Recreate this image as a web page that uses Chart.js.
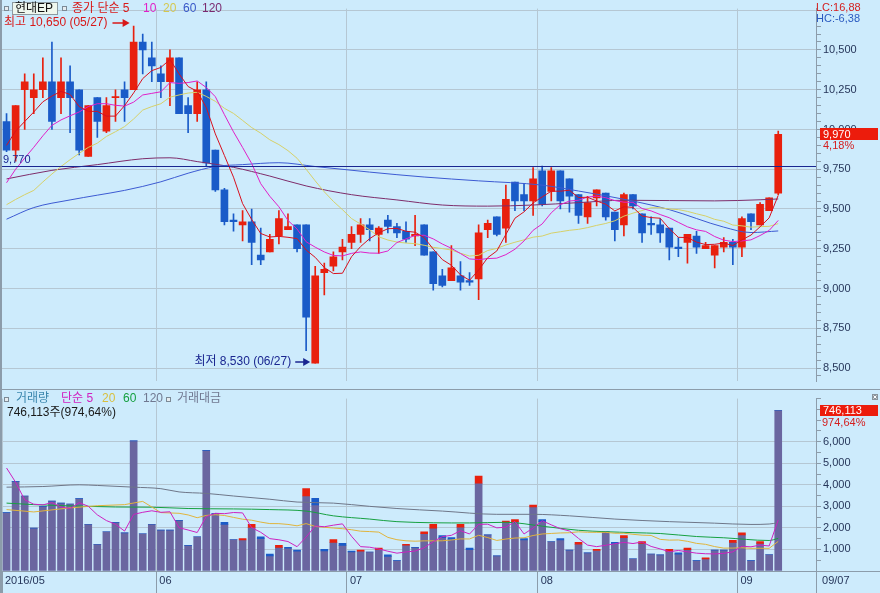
<!DOCTYPE html>
<html lang="ko">
<head>
<meta charset="utf-8">
<title>현대EP</title>
<script src="https://cdn.jsdelivr.net/npm/chart.js@4.4.1/dist/chart.umd.min.js"></script>
<style>
	html, body { margin: 0; padding: 0; background: #cdebfc; }
	#cadre { position: relative; width: 880px; height: 593px; overflow: hidden; background: #cdebfc; }
	canvas { position: absolute; left: 0; }
	#prix { top: 0; }
	#volume { top: 390px; }
</style>
</head>
<body>
<div id="cadre">
	<canvas id="prix" width="880" height="390"></canvas>
	<canvas id="volume" width="880" height="203"></canvas>
</div>
<script>
// Mois affichés sous le graphique et indice du premier jour de chaque mois
const moisLabels = ["2016/05", "06", "07", "08", "09"];
const moisDebut = [0, 17, 38, 59, 81];
const derniereDate = "09/07";

// Bougies journalières
const ouverture = [10050,9870,10250,10200,10250,10300,10200,10300,10250,9830, 10200,9990,10200,10250,10250,10550,10450,10350,10300,10450, 10150,10100,10250,9870,9620,9430,9400,9420,9210,9230, 9330,9370,9400,9400,8530,9100,9140,9230,9290,9340, 9400,9340,9430,9390,9360,9330,9400,9230,9080,9050, 9080,9050,9060,9370,9450,9380,9670,9590,9550,9740, 9610,9740,9690,9590,9450,9570,9600,9480,9400,9590, 9470,9410,9400,9380,9260,9290,9330,9250,9210,9260, 9290,9260,9470,9400,9490,9600];
const haut = [10100,10150,10350,10350,10450,10550,10450,10400,10250,10150, 10200,10200,10250,10300,10650,10600,10550,10400,10500,10450, 10200,10300,10300,9870,9630,9470,9490,9500,9380,9340, 9490,9470,9400,9400,9140,9160,9230,9310,9390,9440, 9440,9390,9460,9410,9420,9460,9400,9230,9120,9270, 9170,9100,9400,9430,9450,9650,9670,9660,9760,9770, 9760,9740,9690,9590,9580,9620,9600,9480,9600,9590, 9470,9450,9440,9380,9320,9340,9360,9290,9270,9320, 9310,9450,9470,9540,9570,9990];
const bas = [9860,9800,10000,10100,10200,10000,10100,9980,9840,9830, 9950,9980,10050,10050,10250,10350,10300,10200,10150,10100, 9980,10050,9770,9610,9400,9360,9300,9150,9150,9230, 9280,9370,9230,8610,8530,8960,9110,9180,9250,9290, 9300,9220,9350,9320,9290,9270,9210,8990,9010,9050, 8990,9020,8930,9320,9330,9290,9490,9490,9460,9520, 9550,9500,9480,9410,9410,9520,9430,9300,9330,9500, 9290,9340,9290,9180,9200,9160,9220,9250,9130,9230, 9150,9200,9370,9400,9490,9590];
const cloture = [9870,10150,10300,10250,10300,10050,10300,10200,9870,10150, 10050,10150,10200,10200,10550,10500,10400,10300,10450,10100, 10100,10250,9790,9620,9420,9420,9420,9290,9180,9310, 9440,9390,9250,8820,9080,9120,9200,9260,9340,9400, 9370,9380,9390,9350,9310,9340,9210,9030,9020,9130, 9040,9040,9350,9410,9340,9560,9550,9550,9690,9530, 9740,9550,9580,9460,9540,9620,9450,9370,9590,9520, 9350,9400,9350,9260,9250,9340,9260,9270,9270,9290, 9260,9440,9420,9530,9570,9970];

// Moyennes mobiles du cours
const mm5 = [9900,9990,10050,10110,10174,10210,10240,10220,10144,10114, 10114,10084,10084,10150,10230,10320,10370,10390,10440,10350, 10270,10240,10138,9972,9836,9700,9534,9434,9346,9324, 9328,9322,9314,9242,9196,9132,9094,9096,9200,9264, 9314,9350,9376,9378,9360,9354,9320,9248,9182,9146, 9086,9052,9116,9194,9236,9340,9442,9482,9538,9576, 9612,9612,9618,9572,9574,9550,9530,9488,9514,9510, 9456,9446,9442,9376,9322,9320,9292,9276,9278,9286, 9270,9306,9336,9388,9444,9586];
const mm10 = [9665,9750,9820,9888,9960,10026,10060,10086,10110,10144, 10162,10162,10152,10147,10172,10217,10227,10237,10295,10290, 10295,10305,10264,10206,10093,9985,9887,9786,9659,9580, 9514,9428,9374,9294,9260,9230,9208,9205,9221,9230, 9223,9222,9236,9289,9312,9334,9335,9312,9280,9253, 9220,9186,9182,9188,9191,9213,9247,9299,9366,9406, 9476,9527,9550,9555,9575,9581,9571,9553,9543,9542, 9503,9488,9465,9445,9416,9388,9369,9359,9327,9304, 9295,9299,9306,9333,9365,9428];
const mm20 = [9527,9560,9590,9617,9670,9720,9767,9810,9850,9887, 9914,9956,9986,10018,10066,10122,10144,10162,10203,10217, 10229,10234,10208,10177,10133,10101,10057,10012,9977,9935, 9905,9867,9819,9750,9677,9608,9548,9496,9440,9405, 9369,9325,9305,9292,9286,9282,9272,9259,9251,9242, 9222,9204,9209,9239,9252,9274,9291,9306,9323,9330, 9348,9357,9366,9372,9383,9397,9409,9426,9455,9474, 9490,9508,9508,9500,9496,9485,9470,9456,9435,9423, 9399,9394,9386,9389,9391,9408];
const mm60 = [[0,9436],[3,9509],[7,9557],[10,9587],[13,9617],[17,9671],[20,9725],[23,9767],[26,9779],[30,9791],[34,9767],[40,9732],[46,9701],[52,9677],[59,9650],[63,9613],[69,9550],[73,9496],[79,9386],[82,9352],[85,9362]];
const mm120 = [[0,9689],[5,9743],[10,9779],[15,9816],[18,9822],[21,9798],[25,9762],[29,9707],[33,9645],[38,9590],[43,9557],[48,9525],[53,9518],[58,9525],[63,9540],[68,9555],[73,9553],[78,9551],[83,9558],[85,9563]];

// Volume (en centaines d'actions) et haut de barre coloré (+ rouge, - bleu)
const volume = [2710,4160,3480,1990,3000,3240,3150,3110,3360,2170, 1240,1820,2260,1770,6040,1730,2170,1900,1900,2350, 1190,1590,5600,2660,2260,1460,1500,2170,1590,790, 1190,1100,970,3820,3370,1010,1460,1280,930,970, 880,1060,750,480,1240,1100,1820,2170,1640,1550, 2170,1060,4400,1680,700,2320,2390,1500,3060,2390, 1370,1500,970,1330,840,1010,1820,1330,1640,570, 1370,790,750,1010,840,1060,480,610,970,970, 1420,1770,480,1370,766,7461];
const volumeHaut = [0,0,0,0,0,0,0,0,0,0, 0,0,0,0,0,0,0,0,0,0, 0,0,0,0,-100,0,60,150,-90,-90, 90,-45,-45,340,-300,-75,135,-90,-45,45, 0,60,-75,0,45,0,90,180,-90,-90, 135,-75,330,0,0,60,100,-60,90,-100, 0,-60,0,90,0,60,0,-60,90,0, 90,0,0,90,-60,75,0,45,0,0, 90,90,0,90,0,0];
const volMm5 = [4780,4120,3300,3100,3068,3174,2972,2898,3172,3006, 2606,2340,2170,1852,2626,2724,2794,2722,2748,2010, 1902,1786,2526,2678,2660,2714,2696,2010,1796,1502, 1448,1368,1128,1574,2090,2054,2126,2188,1610,1130, 1104,1024,918,828,882,926,1078,1362,1594,1656, 1870,1718,2164,2172,2002,2032,2298,1718,1994,2332, 2142,1964,1858,1512,1202,1130,1194,1266,1328,1274, 1346,1140,1024,898,952,890,828,800,792,818, 890,1148,1122,1202,1161,2369];
const volMm20 = [2850,null,null,2740,null,null,null,2930,null,null, 3030,null,null,3080,null,3230,null,2710,null,2678, 2602,2473,2579,2613,2576,2487,2404,2357,2269,2200, 2197,2161,2097,2199,2066,2030,1994,1963,1915,1846, 1830,1804,1561,1452,1401,1383,1399,1399,1402,1440, 1489,1487,1658,1551,1418,1483,1530,1541,1647,1718, 1743,1765,1776,1818,1798,1794,1794,1752,1752,1703, 1663,1649,1467,1433,1440,1377,1282,1237,1133,1062, 1064,1078,1053,1055,1051,1374];
const volMm60 = [[0,3150],[3,3080],[9,3000],[12,2970],[16,2960],[20,2900],[25,2880],[29,2850],[33,2780],[36,2560],[40,2410],[43,2290],[51,2230],[55,2260],[59,2080],[63,1890],[69,1780],[72,1740],[76,1600],[79,1542],[84,1416],[85,1516]];
const volMm120 = [[0,3890],[4,3920],[8,4000],[10,3970],[14,3890],[17,3820],[19,3670],[22,3600],[25,3480],[29,3330],[32,3200],[36,3150],[40,3000],[43,2900],[48,2780],[54,2630],[58,2630],[62,2560],[67,2410],[73,2290],[78,2220],[82,2160],[84,2180],[85,2240]];

// Repères
const prixRepere = 9770;
const plusHaut = [14, 10650, "05/27"];
const plusBas = [34, 8530, "06/27"];
const infoLC = "LC:16,88";
const infoHC = "HC:-6,38";
const volumeTexte = "746,113";
const volumeRatio = "974,64%";

// Couleurs
const ROUGE = "#e8200e";
const BLEU = "#1a5bc8";
const MARINE = "#1a2690";
const GRILLE = "#b5c7d3";
const AXE = "#8c9caa";
const TEXTE_AXE = "#26365a";
const ARDOISE = "#6a66a0";
const POLICE = "'Liberation Sans', Arial, 'Noto Sans CJK KR', sans-serif";
const XMIN = -0.5;
const XMAX = 89.16;

Chart.defaults.font.family = POLICE;
Chart.defaults.font.size = 11;

function fmt(v) {
	return v.toLocaleString("en-US");
}

function points(liste) {
	return liste.map((v, i) => ({ x: i, y: v }));
}

function paires(liste) {
	return liste.map(p => ({ x: p[0], y: p[1] }));
}

function couleurBougie(i) {
	return cloture[i] >= ouverture[i] ? ROUGE : BLEU;
}

function ligne(label, data, color, lisse) {
	return {
		type: "line", label: label, data: data, borderColor: color, borderWidth: 1,
		pointRadius: 0, spanGaps: true, tension: 0,
		cubicInterpolationMode: lisse ? "monotone" : "default", order: 0
	};
}

function fleche(ctx, x0, x1, y, color) {
	ctx.strokeStyle = color;
	ctx.fillStyle = color;
	ctx.lineWidth = 1.5;
	ctx.beginPath();
	ctx.moveTo(x0, y);
	ctx.lineTo(x1 - 5, y);
	ctx.stroke();
	ctx.beginPath();
	ctx.moveTo(x1, y);
	ctx.lineTo(x1 - 7, y - 4);
	ctx.lineTo(x1 - 7, y + 4);
	ctx.closePath();
	ctx.fill();
}

function carre(ctx, x, y) {
	ctx.fillStyle = "#e6ecf0";
	ctx.fillRect(x, y, 4, 4);
	ctx.strokeStyle = "#7c8a96";
	ctx.lineWidth = 1;
	ctx.strokeRect(x + 0.5, y + 0.5, 4, 4);
}

function textes(ctx, y, liste) {
	for (const t of liste) {
		ctx.fillStyle = t[2];
		ctx.fillText(t[0], t[1], y);
	}
}

// Décors du graphique des cours
const decorPrix = {
	id: "decorPrix",
	afterDraw(chart) {
		const { ctx, chartArea: zone } = chart;
		const x = chart.scales.x;
		const y = chart.scales.y;
		ctx.save();
		ctx.fillStyle = AXE;
		ctx.fillRect(0, 0, 2, chart.height);
		ctx.fillRect(0, chart.height - 1, chart.width, 1);

		// ligne de référence
		const yRef = Math.round(y.getPixelForValue(prixRepere)) + 0.5;
		ctx.strokeStyle = MARINE;
		ctx.lineWidth = 1;
		ctx.beginPath();
		ctx.moveTo(zone.left, yRef);
		ctx.lineTo(zone.right, yRef);
		ctx.stroke();
		ctx.font = "11px " + POLICE;
		ctx.textBaseline = "alphabetic";
		ctx.textAlign = "left";
		ctx.fillStyle = MARINE;
		ctx.fillText(fmt(prixRepere), 3, yRef - 4);

		// légende
		ctx.textBaseline = "middle";
		ctx.font = "12px " + POLICE;
		carre(ctx, 4, 6);
		ctx.fillStyle = "#eef7ee";
		ctx.fillRect(12, 2, 46, 13);
		ctx.strokeStyle = "#8c9aa0";
		ctx.strokeRect(12.5, 2.5, 45, 12);
		ctx.fillStyle = "#111";
		ctx.fillText("현대EP", 15, 9);
		carre(ctx, 62, 6);
		textes(ctx, 9, [["종가 단순 5", 72, "#d81818"], ["10", 143, "#e020c8"], ["20", 163, "#d4c850"], ["60", 183, "#3858c8"], ["120", 202, "#7a2a70"]]);

		// plus haut
		const texteHaut = "최고 " + fmt(plusHaut[1]) + " (" + plusHaut[2] + ")";
		ctx.fillStyle = "#d81818";
		ctx.fillText(texteHaut, 4, 23);
		fleche(ctx, 4 + ctx.measureText(texteHaut).width + 5, x.getPixelForValue(plusHaut[0]) - 4, 23, "#d81818");

		// plus bas
		const yBas = Math.round(y.getPixelForValue(plusBas[1])) - 1;
		const pointe = x.getPixelForValue(plusBas[0]) - 5;
		ctx.fillStyle = MARINE;
		ctx.textAlign = "right";
		ctx.fillText("최저 " + fmt(plusBas[1]) + " (" + plusBas[2] + ")", pointe - 19, yBas);
		fleche(ctx, pointe - 15, pointe, yBas, MARINE);

		// infos à droite
		ctx.textAlign = "left";
		ctx.font = "11px " + POLICE;
		ctx.fillStyle = "#d42020";
		ctx.fillText(infoLC, 816, 8);
		ctx.fillStyle = "#2a5ac0";
		ctx.fillText(infoHC, 816, 19);
		const n = cloture.length - 1;
		const yDernier = Math.round(y.getPixelForValue(cloture[n]));
		ctx.fillStyle = "#ec1c0c";
		ctx.fillRect(820, yDernier - 6, 58, 12);
		ctx.fillStyle = "#ffffff";
		ctx.fillText(fmt(cloture[n]), 823, yDernier + 0.5);
		ctx.fillStyle = "#d42020";
		const variation = ((cloture[n] / cloture[n - 1] - 1) * 100).toFixed(2).replace(".", ",") + "%";
		ctx.fillText(variation, 823, yDernier + 12);
		ctx.restore();
	}
};

// Décors du graphique des volumes
const decorVolume = {
	id: "decorVolume",
	afterDraw(chart) {
		const { ctx, chartArea: zone } = chart;
		const y = chart.scales.y;
		ctx.save();
		ctx.fillStyle = AXE;
		ctx.fillRect(0, 0, 2, chart.height);
		ctx.fillRect(zone.right, Math.round(zone.bottom), chart.width - zone.right, 1);

		ctx.textBaseline = "middle";
		ctx.textAlign = "left";
		ctx.font = "12px " + POLICE;
		carre(ctx, 4, 7);
		textes(ctx, 9, [["거래량", 16, "#3a86ad"], ["단순 5", 61, "#d020c0"], ["20", 102, "#d8c040"], ["60", 123, "#16a040"], ["120", 143, "#707890"]]);
		carre(ctx, 166, 7);
		textes(ctx, 9, [["거래대금", 177, "#707890"]]);
		ctx.fillStyle = "#1a1a1a";
		ctx.fillText(volumeTexte + "주(" + volumeRatio + ")", 7, 23);

		const n = volume.length - 1;
		const yDernier = Math.round(y.getPixelForValue(volume[n]));
		ctx.font = "11px " + POLICE;
		ctx.fillStyle = "#ec1c0c";
		ctx.fillRect(820, yDernier - 5, 58, 11);
		ctx.fillStyle = "#ffffff";
		ctx.fillText(volumeTexte, 823, yDernier + 0.5);
		ctx.fillStyle = "#d42020";
		ctx.fillText(volumeRatio, 822, yDernier + 13);
		ctx.fillStyle = "#8a949c";
		ctx.fillRect(872, 4, 6, 6);
		ctx.strokeStyle = "#ffffff";
		ctx.lineWidth = 1;
		ctx.beginPath();
		ctx.moveTo(873.5, 5.5); ctx.lineTo(876.5, 8.5);
		ctx.moveTo(876.5, 5.5); ctx.lineTo(873.5, 8.5);
		ctx.stroke();
		ctx.restore();
	}
};

const optionsCommunes = {
	responsive: false,
	animation: false,
	devicePixelRatio: 1,
	events: [],
	plugins: { legend: { display: false }, tooltip: { enabled: false } }
};

// Graphique des cours
new Chart(document.querySelector("#prix"), {
	type: "bar",
	data: {
		datasets: [
			ligne("5", points(mm5), "#d8101e", false),
			ligne("10", points(mm10), "#e020c8", false),
			ligne("20", points(mm20), "#d6d068", false),
			ligne("60", paires(mm60), "#3c5ad2", true),
			ligne("120", paires(mm120), "#7e2c6a", true),
			{
				label: "corps",
				data: cloture.map((c, i) => ({ x: i, y: [ouverture[i], c] })),
				backgroundColor: ctx => couleurBougie(ctx.dataIndex),
				barThickness: 7, minBarLength: 1, grouped: false, order: 5
			},
			{
				label: "mèche",
				data: cloture.map((c, i) => ({ x: i, y: [bas[i], haut[i]] })),
				backgroundColor: ctx => couleurBougie(ctx.dataIndex),
				barThickness: 1, grouped: false, order: 6
			}
		]
	},
	options: {
		...optionsCommunes,
		layout: { autoPadding: false, padding: { left: 2, right: 0, top: 0, bottom: 2 } },
		scales: {
			x: {
				type: "linear", min: XMIN, max: XMAX, offset: false,
				afterBuildTicks: s => { s.ticks = moisDebut.slice(1).map(i => ({ value: i - 0.5 })); },
				afterFit: s => { s.height = 0; },
				ticks: { display: false },
				grid: { color: GRILLE, drawTicks: false, offset: false },
				border: { display: false }
			},
			y: {
				position: "right", min: 8416, max: 10760,
				afterFit: s => { s.width = 64; },
				ticks: {
					stepSize: 50, includeBounds: false, autoSkip: false, padding: 2, color: TEXTE_AXE,
					callback: v => (v % 250 === 0 && v >= 8500 && v <= 10500) ? fmt(v) : ""
				},
				grid: {
					color: c => (c.tick && c.tick.value % 250 === 0) ? GRILLE : "rgba(0,0,0,0)",
					tickColor: AXE, tickLength: 5
				},
				border: { color: AXE }
			}
		}
	},
	plugins: [decorPrix]
});

// Graphique des volumes
new Chart(document.querySelector("#volume"), {
	type: "bar",
	data: {
		datasets: [
			ligne("5", points(volMm5), "#cc22c0", false),
			ligne("20", points(volMm20), "#e0b43c", false),
			ligne("60", paires(volMm60), "#16a040", true),
			ligne("120", paires(volMm120), "#6e7688", true),
			{
				label: "거래대금",
				data: volume.map((v, i) => ({ x: i, y: [0, v - Math.abs(volumeHaut[i])] })),
				backgroundColor: ARDOISE, barThickness: 7, grouped: false, order: 6
			},
			{
				label: "거래량",
				data: volume.map((v, i) => ({ x: i, y: [v - Math.abs(volumeHaut[i]), v] })),
				backgroundColor: ctx => volumeHaut[ctx.dataIndex] > 0 ? ROUGE : BLEU,
				barThickness: 7, grouped: false, order: 5
			}
		]
	},
	options: {
		...optionsCommunes,
		layout: { autoPadding: false, padding: { left: 2, right: 0, top: 1, bottom: 0 } },
		scales: {
			x: {
				type: "linear", min: XMIN, max: XMAX, offset: false,
				afterBuildTicks: s => { s.ticks = moisDebut.map(i => ({ value: i - 0.5 })).concat([{ value: XMAX }]); },
				afterFit: s => { s.height = 22; },
				ticks: {
					autoSkip: false, maxRotation: 0, align: "start", labelOffset: 3, padding: -19, color: TEXTE_AXE,
					callback: (v, i) => i < moisLabels.length ? moisLabels[i] : " " + derniereDate
				},
				grid: { color: GRILLE, tickColor: AXE, tickLength: 22, offset: false },
				border: { color: AXE }
			},
			y: {
				position: "right", min: 0, max: 8000,
				afterFit: s => { s.width = 64; },
				ticks: {
					stepSize: 500, autoSkip: false, padding: 2, color: TEXTE_AXE,
					callback: v => (v > 0 && v <= 6000 && v % 1000 === 0) ? fmt(v) : ""
				},
				grid: {
					color: c => (c.tick && c.tick.value > 0 && c.tick.value <= 6000 && c.tick.value % 1000 === 0) ? GRILLE : "rgba(0,0,0,0)",
					tickColor: AXE, tickLength: 5
				},
				border: { color: AXE }
			}
		}
	},
	plugins: [decorVolume]
});
</script>
</body>
</html>
